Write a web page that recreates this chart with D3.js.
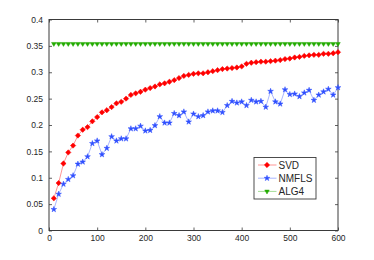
<!DOCTYPE html>
<html>
<head>
<meta charset="utf-8">
<script src="https://cdn.jsdelivr.net/npm/d3@7"></script>
<style>
    body { margin: 0; background: #fff; }
    #chart text { font-family: "Liberation Sans", Arial, sans-serif; fill: #262626; }
</style>
</head>
<body>
<div id="chart"></div>
<script>
/*global d3*/
var rounds = [10, 20, 30, 40, 50, 60, 70, 80, 90, 100,
    110, 120, 130, 140, 150, 160, 170, 180, 190, 200,
    210, 220, 230, 240, 250, 260, 270, 280, 290, 300,
    310, 320, 330, 340, 350, 360, 370, 380, 390, 400,
    410, 420, 430, 440, 450, 460, 470, 480, 490, 500,
    510, 520, 530, 540, 550, 560, 570, 580, 590, 600];

var svdValues = [0.061, 0.090, 0.127, 0.148, 0.161, 0.180, 0.191, 0.196, 0.207, 0.215,
    0.224, 0.228, 0.234, 0.241, 0.244, 0.250, 0.257, 0.260, 0.263, 0.267,
    0.270, 0.273, 0.277, 0.279, 0.282, 0.285, 0.289, 0.293, 0.295, 0.297,
    0.298, 0.298, 0.300, 0.302, 0.304, 0.306, 0.307, 0.308, 0.309, 0.311,
    0.316, 0.318, 0.319, 0.320, 0.320, 0.321, 0.322, 0.323, 0.325, 0.326,
    0.328, 0.329, 0.331, 0.332, 0.333, 0.333, 0.335, 0.335, 0.336, 0.338];

var nmflsValues = [0.040, 0.069, 0.088, 0.097, 0.104, 0.126, 0.130, 0.140, 0.165, 0.170,
    0.144, 0.156, 0.178, 0.170, 0.174, 0.174, 0.193, 0.193, 0.198, 0.189,
    0.190, 0.199, 0.216, 0.204, 0.204, 0.222, 0.218, 0.225, 0.206, 0.221,
    0.216, 0.218, 0.225, 0.227, 0.227, 0.224, 0.237, 0.245, 0.242, 0.244,
    0.237, 0.247, 0.244, 0.245, 0.234, 0.264, 0.244, 0.240, 0.267, 0.258,
    0.259, 0.254, 0.261, 0.266, 0.247, 0.257, 0.263, 0.268, 0.257, 0.271];

var alg4Values = [0.354, 0.354, 0.354, 0.354, 0.354, 0.354, 0.354, 0.354, 0.354, 0.354,
    0.354, 0.354, 0.354, 0.354, 0.354, 0.354, 0.354, 0.354, 0.354, 0.354,
    0.354, 0.354, 0.354, 0.354, 0.354, 0.354, 0.354, 0.354, 0.354, 0.354,
    0.354, 0.354, 0.354, 0.354, 0.354, 0.354, 0.354, 0.354, 0.354, 0.354,
    0.354, 0.354, 0.354, 0.354, 0.354, 0.354, 0.354, 0.354, 0.354, 0.354,
    0.354, 0.354, 0.354, 0.354, 0.354, 0.354, 0.354, 0.354, 0.354, 0.354];

var seriesNames = ["SVD", "NMFLS", "ALG4"];
var xTicks = [0, 100, 200, 300, 400, 500, 600];
var yTicks = [0, 0.05, 0.1, 0.15, 0.2, 0.25, 0.3, 0.35, 0.4];

(function () {
    "use strict";
    var svg, plot, x, y, line, series, legend,
        width = 374,
        height = 260,
        margin = {top: 19.5, right: 36, bottom: 29.5, left: 49},
        innerW = width - margin.left - margin.right,
        innerH = height - margin.top - margin.bottom,
        axisColor = "#3a3a3a";

    svg = d3.select("#chart").append("svg")
        .attr("width", width)
        .attr("height", height);

    x = d3.scaleLinear().domain([0, 600]).range([0, innerW]);
    y = d3.scaleLinear().domain([0, 0.4]).range([innerH, 0]);

    plot = svg.append("g")
        .attr("transform", "translate(" + margin.left + "," + margin.top + ")");

    // axes, ticks pointing inward like matlab
    function styleAxis(g) {
        g.select(".domain").remove();
        g.selectAll("line").attr("stroke", axisColor).attr("stroke-width", 0.8);
        g.selectAll("text").style("font-size", "8.5px");
    }

    plot.append("g")
        .attr("transform", "translate(0," + innerH + ")")
        .call(d3.axisBottom(x).tickValues(xTicks).tickSize(-3).tickPadding(4.5).tickFormat(d3.format("d")))
        .call(styleAxis);

    plot.append("g")
        .call(d3.axisTop(x).tickValues(xTicks).tickSize(-3).tickFormat(""))
        .call(styleAxis);

    plot.append("g")
        .call(d3.axisLeft(y).tickValues(yTicks).tickSize(-3).tickPadding(6).tickFormat(function (d) {
            return d === 0 ? "0" : d3.format("")(+d.toFixed(2));
        }))
        .call(styleAxis);

    plot.append("g")
        .attr("transform", "translate(" + innerW + ",0)")
        .call(d3.axisRight(y).tickValues(yTicks).tickSize(-3).tickFormat(""))
        .call(styleAxis);

    plot.append("rect")
        .attr("width", innerW)
        .attr("height", innerH)
        .attr("fill", "none")
        .attr("stroke", axisColor)
        .attr("stroke-width", 1);

    line = d3.line()
        .x(function (d) { return x(d.x); })
        .y(function (d) { return y(d.y); });

    series = [
        {name: seriesNames[0], values: svdValues, color: "#ff0000",
            symbol: d3.symbol().type(d3.symbolSquare).size(14), rotate: 45},
        {name: seriesNames[1], values: nmflsValues, color: "#2f4fff",
            symbol: d3.symbol().type(d3.symbolStar).size(10), rotate: 0},
        {name: seriesNames[2], values: alg4Values, color: "#22aa00",
            symbol: d3.symbol().type(d3.symbolTriangle).size(9), rotate: 180}
    ];

    series.forEach(function (s) {
        var pts = rounds.map(function (r, i) {
            return {x: r, y: s.values[i]};
        });
        var g = plot.append("g");
        g.append("path")
            .datum(pts)
            .attr("d", line)
            .attr("fill", "none")
            .attr("stroke", s.color)
            .attr("stroke-opacity", 0.7)
            .attr("stroke-width", 0.6);
        g.selectAll("path.mark").data(pts).enter().append("path")
            .attr("class", "mark")
            .attr("d", s.symbol())
            .attr("transform", function (d) {
                return "translate(" + x(d.x) + "," + y(d.y) + ") rotate(" + s.rotate + ")";
            })
            .attr("fill", s.color)
            .attr("stroke", s.color)
            .attr("stroke-width", 0.5);
    });

    // legend
    legend = svg.append("g").attr("transform", "translate(254,157.5)");
    legend.append("rect")
        .attr("width", 62)
        .attr("height", 41.5)
        .attr("fill", "#fff")
        .attr("stroke", axisColor)
        .attr("stroke-width", 0.9);

    series.forEach(function (s, i) {
        var row = legend.append("g").attr("transform", "translate(0," + (7.5 + i * 13.2) + ")");
        row.append("line")
            .attr("x1", 4).attr("x2", 22.5)
            .attr("stroke", s.color)
            .attr("stroke-opacity", 0.7)
            .attr("stroke-width", 0.6);
        row.append("path")
            .attr("d", s.symbol())
            .attr("transform", "translate(13,0) rotate(" + s.rotate + ")")
            .attr("fill", s.color)
            .attr("stroke", s.color)
            .attr("stroke-width", 0.5);
        row.append("text")
            .attr("x", 24.5)
            .attr("y", 3.5)
            .style("font-size", "10px")
            .text(s.name);
    });
}());
</script>
</body>
</html>
